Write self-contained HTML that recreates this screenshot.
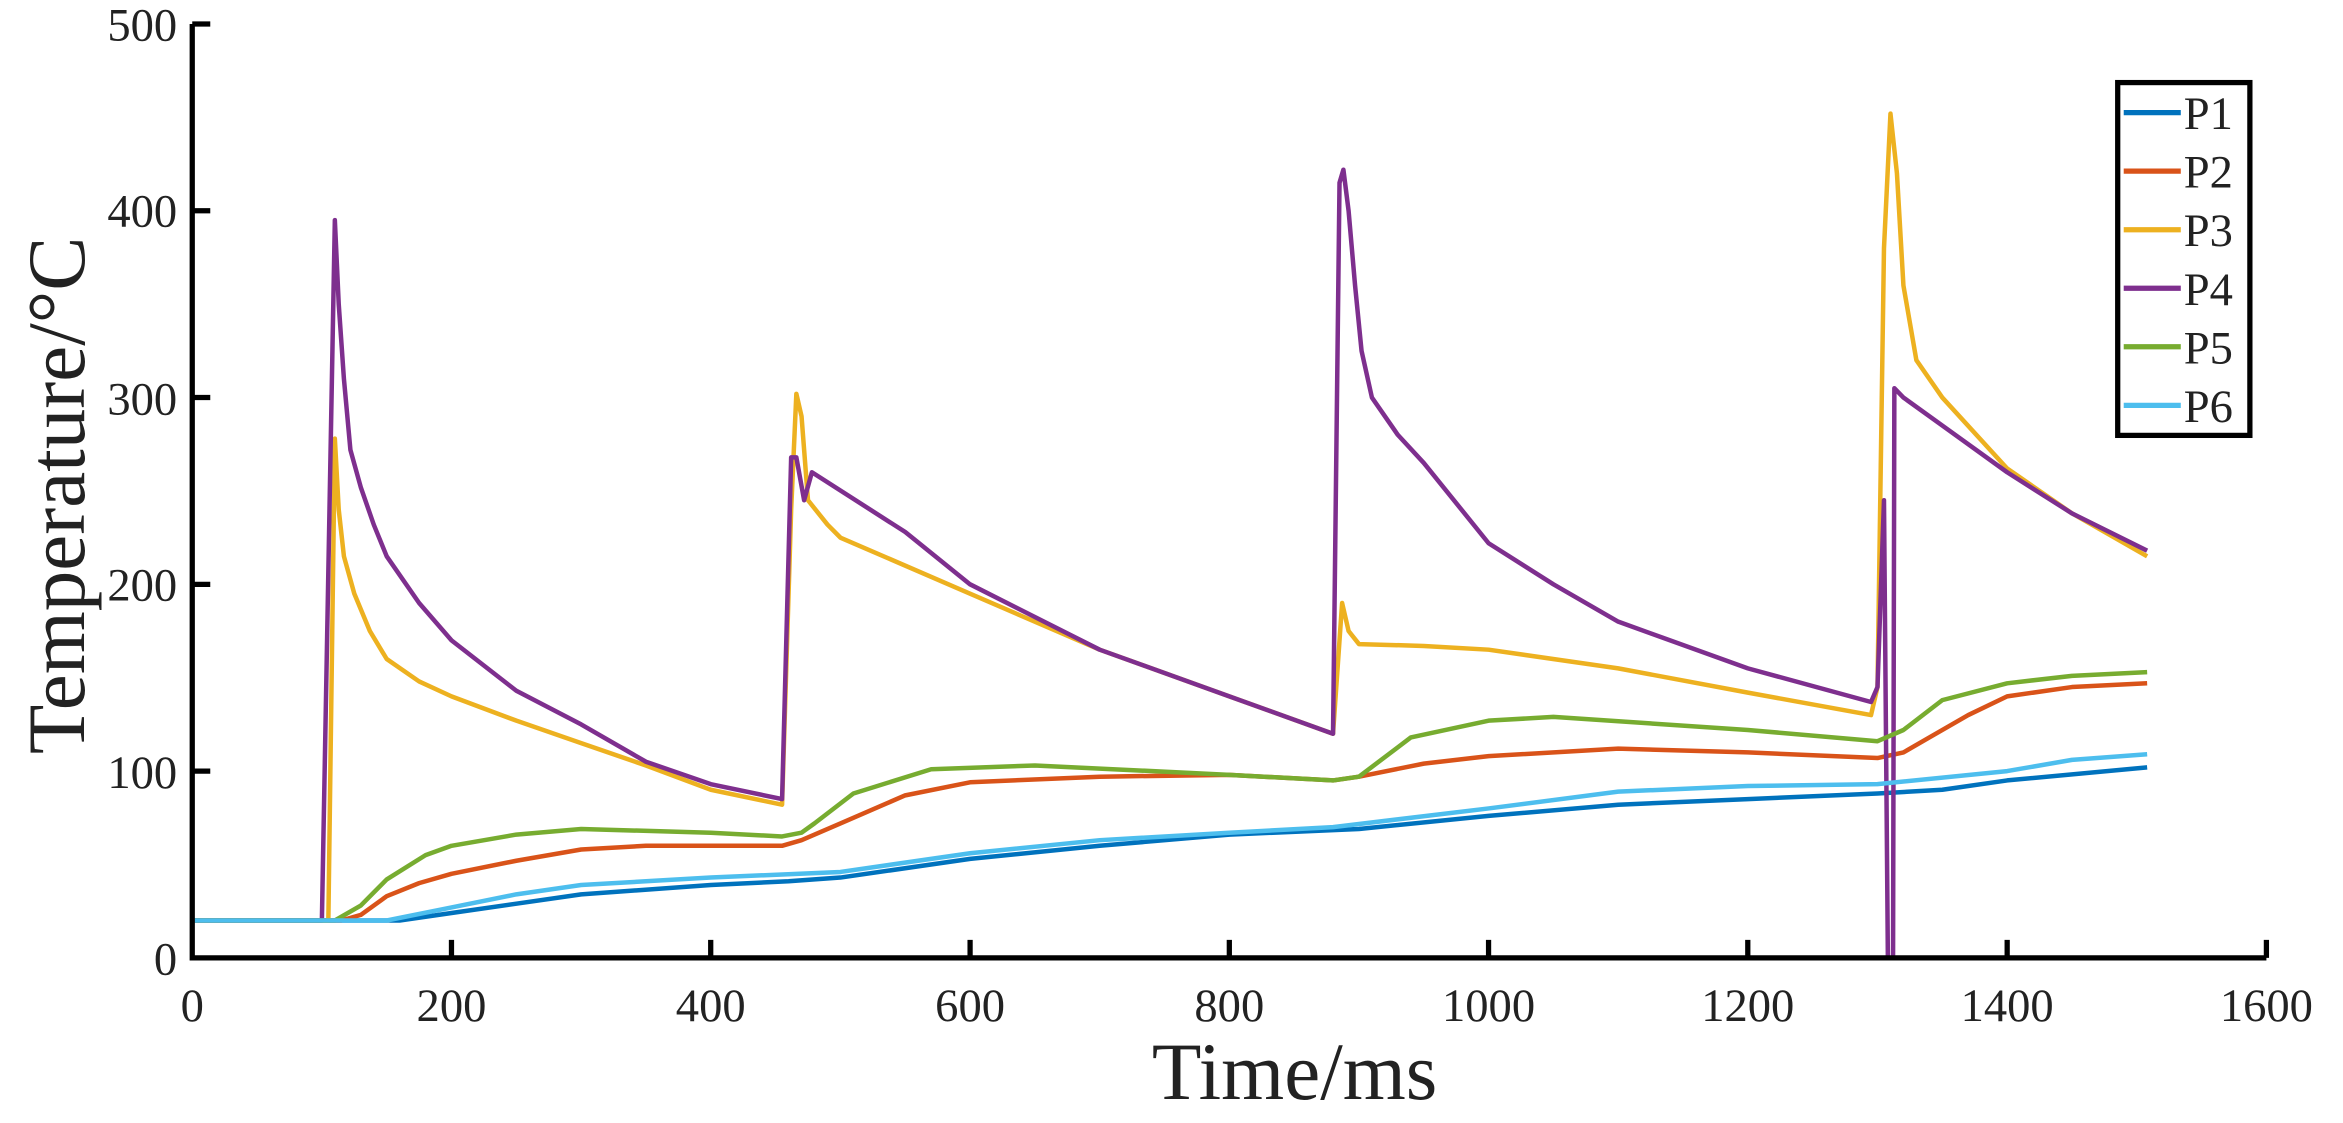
<!DOCTYPE html>
<html><head><meta charset="utf-8"><style>html,body{margin:0;padding:0;background:#fff}svg{display:block}</style></head>
<body>
<svg width="2343" height="1123" viewBox="0 0 1560 748" preserveAspectRatio="none" xmlns="http://www.w3.org/2000/svg" font-family="Liberation Serif, serif">
<g fill="none" stroke-width="4.5" stroke-linejoin="round" transform="matrix(0.863125 0 0 -1.244 128 638)">
<path vector-effect="non-scaling-stroke" stroke="#0072BD" d="M0,20 L160,20 200,24 250,29 300,34 400,39 460,41 500,43 600,53 700,60 800,66 900,69 1000,76 1100,82 1200,85 1300,88 1350,90 1400,95 1508,102"/>
<path vector-effect="non-scaling-stroke" stroke="#D95319" d="M0,20 L115,20 130,23 150,33 175,40 200,45 250,52 300,58 350,60 455,60 470,63 500,72 550,87 600,94 700,97 800,98 880,95 900,97 950,104 1000,108 1100,112 1200,110 1300,107 1320,110 1340,118 1370,130 1400,140 1450,145 1508,147"/>
<path vector-effect="non-scaling-stroke" stroke="#EDB120" d="M0,20 L105,20 110,278 113,240 117,215 125,195 137,175 150,160 175,148 200,140 250,127 300,115 350,103 400,90 455,82 462,240 466,302 470,290 475,245 490,232 500,225 600,195 700,165 800,140 880,120 887,190 892,175 900,168 950,167 1000,165 1100,155 1200,142 1295,130 1300,145 1305,380 1310,452 1315,420 1320,360 1330,320 1350,300 1400,262 1450,238 1508,215"/>
<path vector-effect="non-scaling-stroke" stroke="#7E2F8E" d="M0,20 L100,20 110,395 113,350 117,310 122,272 130,252 140,232 150,215 175,190 200,170 250,143 300,125 350,105 400,93 455,85 462,268 466,268 472,245 478,260 550,228 600,200 700,165 800,140 880,120 885,415 888,422 892,400 897,360 902,325 910,300 930,280 950,265 1000,222 1050,200 1100,180 1200,155 1295,137 1300,145 1305,245 1308,0 1312,0 1313,305 1320,300 1350,285 1400,260 1450,238 1508,218"/>
<path vector-effect="non-scaling-stroke" stroke="#77AC30" d="M0,20 L110,20 130,28 150,42 180,55 200,60 250,66 300,69 400,67 455,65 470,67 480,72 510,88 570,101 650,103 800,98 880,95 900,97 940,118 1000,127 1050,129 1200,122 1300,116 1320,122 1350,138 1400,147 1450,151 1508,153"/>
<path vector-effect="non-scaling-stroke" stroke="#4DBEEE" d="M0,20 L150,20 200,27 250,34 300,39 400,43 500,46 600,56 700,63 800,67 880,70 1000,80 1100,89 1200,92 1300,93 1400,100 1450,106 1508,109"/>
</g>
<g stroke="#000" stroke-width="3.5" fill="none">
<path d="M128,16 V638 H1509"/>
<path d="M128,16 H140 M128,140.4 H140 M128,264.8 H140 M128,389.2 H140 M128,513.6 H140"/>
<path d="M300.6,638 V626 M473.2,638 V626 M645.9,638 V626 M818.5,638 V626 M991.1,638 V626 M1163.7,638 V626 M1336.4,638 V626 M1509,638 V626"/>
</g>
<g font-size="31" fill="#222" text-anchor="end">
<text x="118" y="649">0</text><text x="118" y="525">100</text><text x="118" y="400">200</text><text x="118" y="276">300</text><text x="118" y="151">400</text><text x="118" y="27">500</text>
</g>
<g font-size="31" fill="#222" text-anchor="middle">
<text x="128" y="680">0</text><text x="300.6" y="680">200</text><text x="473.2" y="680">400</text><text x="645.9" y="680">600</text><text x="818.5" y="680">800</text><text x="991.1" y="680">1000</text><text x="1163.7" y="680">1200</text><text x="1336.4" y="680">1400</text><text x="1509" y="680">1600</text>
</g>
<text x="862" y="732" font-size="54" text-anchor="middle" fill="#222">Time/ms</text>
<text transform="translate(56,330) rotate(-90)" font-size="54" text-anchor="middle" fill="#222">Temperature/°C</text>
<rect x="1410" y="55" width="88" height="235" fill="#fff" stroke="#000" stroke-width="3.5"/>
<g stroke-width="3.5">
<line x1="1414" x2="1452" y1="75" y2="75" stroke="#0072BD"/>
<line x1="1414" x2="1452" y1="114" y2="114" stroke="#D95319"/>
<line x1="1414" x2="1452" y1="153" y2="153" stroke="#EDB120"/>
<line x1="1414" x2="1452" y1="192" y2="192" stroke="#7E2F8E"/>
<line x1="1414" x2="1452" y1="231" y2="231" stroke="#77AC30"/>
<line x1="1414" x2="1452" y1="270" y2="270" stroke="#4DBEEE"/>
</g>
<g font-size="31" fill="#222">
<text x="1454" y="86">P1</text><text x="1454" y="125">P2</text><text x="1454" y="164">P3</text><text x="1454" y="203">P4</text><text x="1454" y="242">P5</text><text x="1454" y="281">P6</text>
</g>
</svg>
</body></html>
